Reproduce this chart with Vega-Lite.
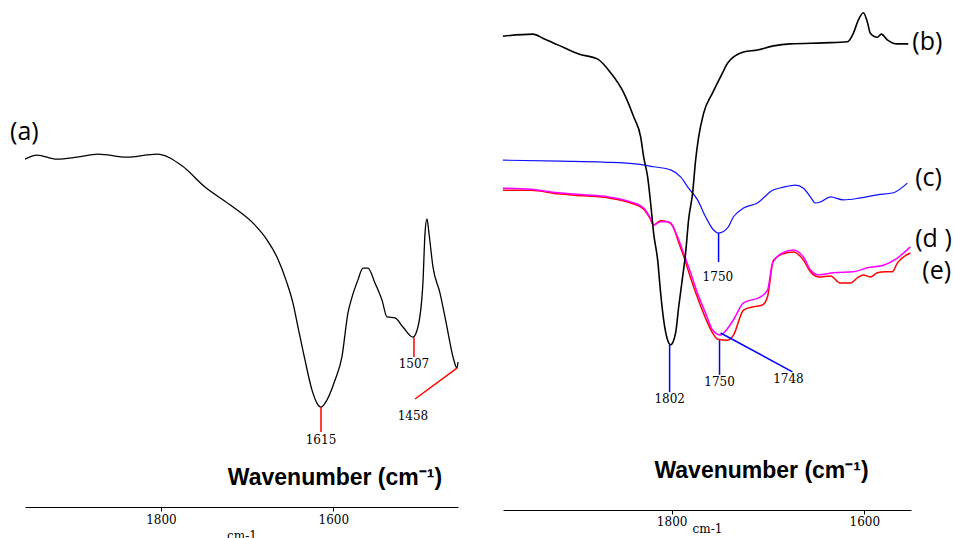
{
  "$schema": "https://vega.github.io/schema/vega-lite/v6.json",
  "background": "white",
  "padding": {"left": 10, "top": 0, "right": 0, "bottom": 0},
  "autosize": {"type": "pad"},
  "spacing": 45,
  "bounds": "flush",
  "config": {"view": {"stroke": null}},
  "datasets": {
    "A": [
      {"wn":1957.8,"T":68.6},{"wn":1943.9,"T":69.4},{"wn":1920.7,"T":68.6},{"wn":1897.5,"T":69.0},{"wn":1873.1,"T":69.6},{"wn":1839.5,"T":69.0},{"wn":1804.6,"T":69.6},{"wn":1775.6,"T":67.3},{"wn":1748.9,"T":63.1},{"wn":1719.9,"T":59.6},{"wn":1690.9,"T":55.6},{"wn":1677.0,"T":52.7},{"wn":1665.4,"T":49.3},{"wn":1653.8,"T":44.2},{"wn":1646.8,"T":40.2},{"wn":1641.0,"T":35.5},{"wn":1632.9,"T":29.0},{"wn":1624.8,"T":23.1},{"wn":1619.0,"T":20.5},{"wn":1614.3,"T":19.7},{"wn":1607.4,"T":21.1},{"wn":1598.1,"T":25.0},{"wn":1590.0,"T":29.6},{"wn":1583.0,"T":38.3},{"wn":1578.3,"T":41.4},{"wn":1571.4,"T":44.8},{"wn":1565.6,"T":47.1},{"wn":1559.8,"T":47.1},{"wn":1551.7,"T":44.2},{"wn":1543.5,"T":40.8},{"wn":1537.7,"T":37.5},{"wn":1528.4,"T":37.3},{"wn":1519.2,"T":35.5},{"wn":1507.6,"T":33.5},{"wn":1501.8,"T":35.5},{"wn":1496.0,"T":44.2},{"wn":1493.6,"T":54.0},{"wn":1491.3,"T":56.8},{"wn":1489.0,"T":54.0},{"wn":1484.3,"T":47.3},{"wn":1476.2,"T":42.2},{"wn":1468.1,"T":35.5},{"wn":1461.1,"T":29.6},{"wn":1456.5,"T":27.4},{"wn":1455.3,"T":28.6}
    ],
    "R": [
      {"s":"b","wn":1975.1,"T":92.9},{"s":"b","wn":1944.0,"T":93.3},{"s":"b","wn":1932.6,"T":92.4},{"s":"b","wn":1918.1,"T":91.2},{"s":"b","wn":1896.4,"T":89.4},{"s":"b","wn":1876.7,"T":88.4},{"s":"b","wn":1863.2,"T":85.7},{"s":"b","wn":1849.7,"T":81.8},{"s":"b","wn":1839.4,"T":77.1},{"s":"b","wn":1832.1,"T":73.1},{"s":"b","wn":1829.0,"T":69.2},{"s":"b","wn":1824.9,"T":65.3},{"s":"b","wn":1821.8,"T":60.2},{"s":"b","wn":1818.7,"T":54.3},{"s":"b","wn":1814.5,"T":49.0},{"s":"b","wn":1811.4,"T":42.5},{"s":"b","wn":1808.3,"T":37.3},{"s":"b","wn":1804.1,"T":33.3},{"s":"b","wn":1801.0,"T":32.4},{"s":"b","wn":1795.9,"T":34.7},{"s":"b","wn":1792.7,"T":39.8},{"s":"b","wn":1788.6,"T":45.7},{"s":"b","wn":1785.5,"T":50.4},{"s":"b","wn":1782.4,"T":56.9},{"s":"b","wn":1778.2,"T":62.2},{"s":"b","wn":1775.1,"T":68.6},{"s":"b","wn":1772.0,"T":73.1},{"s":"b","wn":1766.8,"T":77.8},{"s":"b","wn":1757.5,"T":81.8},{"s":"b","wn":1747.2,"T":85.7},{"s":"b","wn":1742.0,"T":87.6},{"s":"b","wn":1725.4,"T":89.8},{"s":"b","wn":1710.9,"T":90.2},{"s":"b","wn":1694.3,"T":91.0},{"s":"b","wn":1676.7,"T":91.4},{"s":"b","wn":1642.5,"T":91.6},{"s":"b","wn":1617.6,"T":91.8},{"s":"b","wn":1611.4,"T":93.5},{"s":"b","wn":1606.2,"T":96.1},{"s":"b","wn":1601.0,"T":97.5},{"s":"b","wn":1596.9,"T":95.7},{"s":"b","wn":1593.8,"T":93.5},{"s":"b","wn":1586.5,"T":92.7},{"s":"b","wn":1582.4,"T":93.3},{"s":"b","wn":1576.2,"T":92.2},{"s":"b","wn":1565.8,"T":91.4},{"s":"b","wn":1554.4,"T":91.4},
      {"s":"c","wn":1975.1,"T":68.6},{"s":"c","wn":1915.0,"T":68.4},{"s":"c","wn":1870.5,"T":68.2},{"s":"c","wn":1835.2,"T":67.8},{"s":"c","wn":1818.7,"T":67.3},{"s":"c","wn":1801.0,"T":66.7},{"s":"c","wn":1790.7,"T":65.3},{"s":"c","wn":1782.4,"T":63.1},{"s":"c","wn":1773.1,"T":60.8},{"s":"c","wn":1764.8,"T":57.5},{"s":"c","wn":1756.5,"T":54.9},{"s":"c","wn":1751.3,"T":54.3},{"s":"c","wn":1742.0,"T":55.3},{"s":"c","wn":1735.8,"T":57.5},{"s":"c","wn":1725.4,"T":59.2},{"s":"c","wn":1710.9,"T":60.2},{"s":"c","wn":1695.3,"T":62.7},{"s":"c","wn":1683.9,"T":63.3},{"s":"c","wn":1671.5,"T":63.7},{"s":"c","wn":1663.2,"T":63.1},{"s":"c","wn":1656.0,"T":61.4},{"s":"c","wn":1650.8,"T":60.2},{"s":"c","wn":1645.6,"T":60.4},{"s":"c","wn":1635.2,"T":61.4},{"s":"c","wn":1621.8,"T":60.8},{"s":"c","wn":1604.1,"T":61.2},{"s":"c","wn":1586.5,"T":61.8},{"s":"c","wn":1570.0,"T":62.2},{"s":"c","wn":1555.4,"T":64.1},
      {"s":"d","wn":1975.1,"T":63.1},{"s":"d","wn":1946.1,"T":62.9},{"s":"d","wn":1918.1,"T":62.2},{"s":"d","wn":1891.2,"T":61.8},{"s":"d","wn":1866.3,"T":61.4},{"s":"d","wn":1842.5,"T":60.4},{"s":"d","wn":1829.0,"T":59.2},{"s":"d","wn":1822.8,"T":57.5},{"s":"d","wn":1818.7,"T":55.9},{"s":"d","wn":1811.4,"T":56.5},{"s":"d","wn":1804.1,"T":56.5},{"s":"d","wn":1801.0,"T":56.3},{"s":"d","wn":1793.8,"T":53.5},{"s":"d","wn":1787.6,"T":50.4},{"s":"d","wn":1780.3,"T":46.5},{"s":"d","wn":1773.1,"T":42.5},{"s":"d","wn":1764.8,"T":38.6},{"s":"d","wn":1757.5,"T":35.3},{"s":"d","wn":1749.2,"T":34.3},{"s":"d","wn":1746.1,"T":34.7},{"s":"d","wn":1735.8,"T":37.3},{"s":"d","wn":1725.4,"T":40.6},{"s":"d","wn":1707.8,"T":41.8},{"s":"d","wn":1700.5,"T":43.1},{"s":"d","wn":1695.3,"T":48.4},{"s":"d","wn":1685.0,"T":50.4},{"s":"d","wn":1673.6,"T":51.0},{"s":"d","wn":1663.2,"T":49.6},{"s":"d","wn":1656.0,"T":47.1},{"s":"d","wn":1647.7,"T":46.1},{"s":"d","wn":1632.1,"T":46.5},{"s":"d","wn":1611.4,"T":46.7},{"s":"d","wn":1596.9,"T":47.5},{"s":"d","wn":1580.3,"T":48.0},{"s":"d","wn":1565.8,"T":49.4},{"s":"d","wn":1552.3,"T":51.6},
      {"s":"e","wn":1975.1,"T":62.7},{"s":"e","wn":1946.1,"T":62.7},{"s":"e","wn":1918.1,"T":62.0},{"s":"e","wn":1891.2,"T":61.6},{"s":"e","wn":1866.3,"T":61.2},{"s":"e","wn":1842.5,"T":60.2},{"s":"e","wn":1829.0,"T":59.0},{"s":"e","wn":1822.8,"T":57.3},{"s":"e","wn":1818.7,"T":55.9},{"s":"e","wn":1811.4,"T":56.7},{"s":"e","wn":1804.1,"T":56.5},{"s":"e","wn":1799.0,"T":55.7},{"s":"e","wn":1792.7,"T":52.5},{"s":"e","wn":1786.5,"T":49.2},{"s":"e","wn":1780.3,"T":45.5},{"s":"e","wn":1773.1,"T":41.6},{"s":"e","wn":1764.8,"T":37.6},{"s":"e","wn":1757.5,"T":34.7},{"s":"e","wn":1752.3,"T":33.5},{"s":"e","wn":1742.0,"T":33.3},{"s":"e","wn":1735.8,"T":34.3},{"s":"e","wn":1725.4,"T":39.2},{"s":"e","wn":1716.1,"T":39.8},{"s":"e","wn":1705.7,"T":40.2},{"s":"e","wn":1700.5,"T":41.8},{"s":"e","wn":1694.3,"T":49.0},{"s":"e","wn":1685.0,"T":50.2},{"s":"e","wn":1673.6,"T":50.6},{"s":"e","wn":1663.2,"T":49.0},{"s":"e","wn":1656.0,"T":46.7},{"s":"e","wn":1647.7,"T":45.7},{"s":"e","wn":1635.2,"T":45.9},{"s":"e","wn":1624.9,"T":44.5},{"s":"e","wn":1614.5,"T":44.5},{"s":"e","wn":1607.3,"T":45.5},{"s":"e","wn":1601.0,"T":46.1},{"s":"e","wn":1593.8,"T":45.7},{"s":"e","wn":1586.5,"T":46.5},{"s":"e","wn":1578.2,"T":46.7},{"s":"e","wn":1571.0,"T":46.7},{"s":"e","wn":1565.8,"T":48.4},{"s":"e","wn":1552.3,"T":50.4}
    ],
    "LR": [
      {"wn":1614.3,"wn2":1614.3,"T":19.7,"T2":14.8},
      {"wn":1506.4,"wn2":1506.4,"T":33.5,"T2":29.6},
      {"wn":1456.5,"wn2":1505.2,"T":27.4,"T2":21.3}
    ],
    "LT": [
      {"wn":1614.3,"T":13.2,"t":"1615"},
      {"wn":1506.4,"T":28.2,"t":"1507"},
      {"wn":1507.6,"T":17.9,"t":"1458"}
    ],
    "RR": [
      {"wn":1802.1,"wn2":1802.1,"T":32.4,"T2":23.1},
      {"wn":1751.3,"wn2":1751.3,"T":54.3,"T2":48.6},
      {"wn":1750.3,"wn2":1750.3,"T":33.3,"T2":26.5},
      {"wn":1749.2,"wn2":1674.6,"T":34.7,"T2":27.1}
    ],
    "RT": [
      {"wn":1802.0,"T":21.8,"t":"1802"},
      {"wn":1752.0,"T":45.7,"t":"1750"},
      {"wn":1750.3,"T":25.1,"t":"1750"},
      {"wn":1678.8,"T":25.7,"t":"1748"}
    ],
    "LS": [{"wn":1975.2,"T":74.0,"t":"(a)"}],
    "RS": [
      {"wn":1550.3,"T":91.8,"t":"(b)"},
      {"wn":1547.2,"T":65.1,"t":"(c)"},
      {"wn":1547.2,"T":53.1,"t":"(d )"},
      {"wn":1539.9,"T":46.9,"t":"(e)"}
    ],
    "LW": [{"wn":1598.1,"T":4.3,"t":"Wavenumber (cm⁻¹)"}],
    "RW": [{"wn":1706.7,"T":6.3,"t":"Wavenumber (cm⁻¹)"}]
  },
  "hconcat": [
    {
      "width": 433,
      "height": 507,
      "layer": [
        {
          "data": {"name": "A"},
          "mark": {"type": "line", "color": "#000000", "strokeWidth": 1.3, "interpolate": "monotone"},
          "encoding": {
            "x": {"field": "wn", "type": "quantitative", "scale": {"domain": [1455.3, 1957.8], "reverse": true, "nice": false, "zero": false},
              "axis": {"values": [1800, 1600], "format": "d", "grid": false, "tickSize": 4, "domainColor": "#000000", "tickColor": "#000000", "labelColor": "#000000", "labelFont": "DejaVu Serif", "labelFontSize": 12, "labelPadding": 3, "title": "cm-1", "titleFont": "DejaVu Serif", "titleFontWeight": "normal", "titleFontSize": 12, "titleColor": "#000000", "titlePadding": 5}},
            "y": {"field": "T", "type": "quantitative", "scale": {"domain": [0, 100], "nice": false, "zero": false}, "axis": null}
          }
        },
        {
          "data": {"name": "LR"},
          "mark": {"type": "rule", "color": "#ff0000", "strokeWidth": 1.5},
          "encoding": {
            "x": {"field": "wn", "type": "quantitative"},
            "x2": {"field": "wn2"},
            "y": {"field": "T", "type": "quantitative"},
            "y2": {"field": "T2"}
          }
        },
        {
          "data": {"name": "LT"},
          "mark": {"type": "text", "font": "DejaVu Serif", "fontSize": 12, "color": "#000000", "baseline": "middle", "align": "center"},
          "encoding": {
            "x": {"field": "wn", "type": "quantitative"},
            "y": {"field": "T", "type": "quantitative"},
            "text": {"field": "t"}
          }
        },
        {
          "data": {"name": "LS"},
          "mark": {"type": "text", "font": "Open Sans", "fontSize": 25, "color": "#000000", "baseline": "middle", "align": "left"},
          "encoding": {
            "x": {"field": "wn", "type": "quantitative"},
            "y": {"field": "T", "type": "quantitative"},
            "text": {"field": "t"}
          }
        },
        {
          "data": {"name": "LW"},
          "mark": {"type": "text", "font": "Liberation Sans", "fontSize": 23, "fontWeight": "bold", "color": "#000000", "baseline": "alphabetic", "align": "center"},
          "encoding": {
            "x": {"field": "wn", "type": "quantitative"},
            "y": {"field": "T", "type": "quantitative"},
            "text": {"field": "t"}
          }
        }
      ]
    },
    {
      "width": 408,
      "height": 510,
      "layer": [
        {
          "data": {"name": "R"},
          "transform": [{"filter": "datum.s == 'e'"}],
          "mark": {"type": "line", "color": "#ff0000", "strokeWidth": 1.5, "interpolate": "monotone"},
          "encoding": {
            "x": {"field": "wn", "type": "quantitative", "scale": {"domain": [1551.6, 1975], "reverse": true, "nice": false, "zero": false},
              "axis": {"values": [1800, 1600], "format": "d", "grid": false, "tickSize": 4, "domainColor": "#000000", "tickColor": "#000000", "labelColor": "#000000", "labelFont": "DejaVu Serif", "labelFontSize": 12, "labelPadding": 2, "title": "cm-1", "titleFont": "DejaVu Serif", "titleFontWeight": "normal", "titleFontSize": 12, "titleColor": "#000000", "titlePadding": -4}},
            "y": {"field": "T", "type": "quantitative", "scale": {"domain": [0, 100], "nice": false, "zero": false}, "axis": null}
          }
        },
        {
          "data": {"name": "R"},
          "transform": [{"filter": "datum.s == 'd'"}],
          "mark": {"type": "line", "color": "#ff00ff", "strokeWidth": 1.5, "interpolate": "monotone"},
          "encoding": {
            "x": {"field": "wn", "type": "quantitative"},
            "y": {"field": "T", "type": "quantitative"}
          }
        },
        {
          "data": {"name": "R"},
          "transform": [{"filter": "datum.s == 'c'"}],
          "mark": {"type": "line", "color": "#1010ff", "strokeWidth": 1.2, "interpolate": "monotone"},
          "encoding": {
            "x": {"field": "wn", "type": "quantitative"},
            "y": {"field": "T", "type": "quantitative"}
          }
        },
        {
          "data": {"name": "R"},
          "transform": [{"filter": "datum.s == 'b'"}],
          "mark": {"type": "line", "color": "#000000", "strokeWidth": 1.6, "interpolate": "monotone"},
          "encoding": {
            "x": {"field": "wn", "type": "quantitative"},
            "y": {"field": "T", "type": "quantitative"}
          }
        },
        {
          "data": {"name": "RR"},
          "mark": {"type": "rule", "color": "#0000ff", "strokeWidth": 1.5},
          "encoding": {
            "x": {"field": "wn", "type": "quantitative"},
            "x2": {"field": "wn2"},
            "y": {"field": "T", "type": "quantitative"},
            "y2": {"field": "T2"}
          }
        },
        {
          "data": {"name": "RT"},
          "mark": {"type": "text", "font": "DejaVu Serif", "fontSize": 12, "color": "#000000", "baseline": "middle", "align": "center"},
          "encoding": {
            "x": {"field": "wn", "type": "quantitative"},
            "y": {"field": "T", "type": "quantitative"},
            "text": {"field": "t"}
          }
        },
        {
          "data": {"name": "RS"},
          "mark": {"type": "text", "font": "Open Sans", "fontSize": 25, "color": "#000000", "baseline": "middle", "align": "left"},
          "encoding": {
            "x": {"field": "wn", "type": "quantitative"},
            "y": {"field": "T", "type": "quantitative"},
            "text": {"field": "t"}
          }
        },
        {
          "data": {"name": "RW"},
          "mark": {"type": "text", "font": "Liberation Sans", "fontSize": 23, "fontWeight": "bold", "color": "#000000", "baseline": "alphabetic", "align": "center"},
          "encoding": {
            "x": {"field": "wn", "type": "quantitative"},
            "y": {"field": "T", "type": "quantitative"},
            "text": {"field": "t"}
          }
        }
      ]
    }
  ]
}
